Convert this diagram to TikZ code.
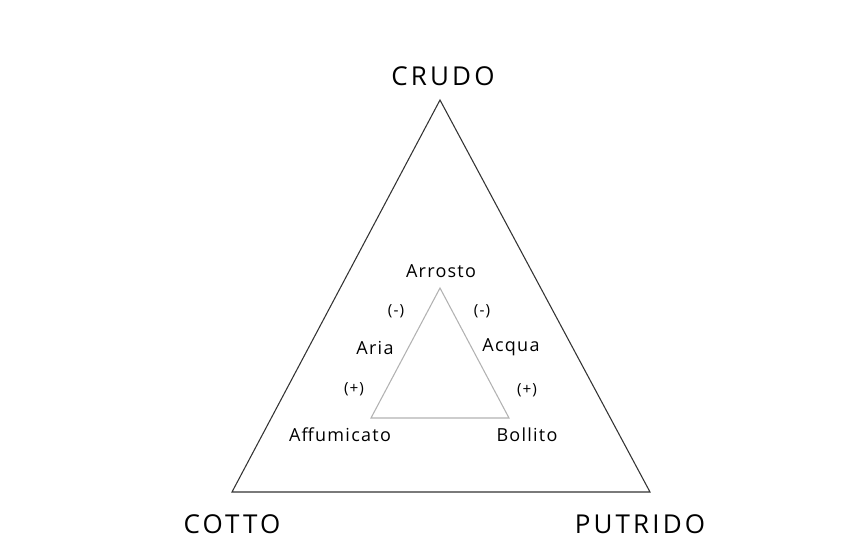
\documentclass[tikz,border=0pt]{standalone}
\usepackage{fontspec}
\setmainfont{Open Sans}
\newfontfamily\widefont[LetterSpace=12]{Open Sans}
\newfontfamily\midfont[LetterSpace=7]{Open Sans}

\begin{document}
\begin{tikzpicture}[x=0.75pt, y=-0.75pt, inner sep=0pt]
                \tikzstyle{pole}=[font=\widefont\fontsize{19.5}{22}\selectfont]
                \tikzstyle{cook}=[font=\midfont\fontsize{13.5}{16}\selectfont]
                \tikzstyle{sign}=[font=\midfont\fontsize{11.5}{13}\selectfont]
                \useasboundingbox (0,0) rectangle (844,560);

                    % Vertices
                    \coordinate (crudo) at (440,100);
                    \coordinate (cotto) at (232,492);
                    \coordinate (putrido) at (650,492);
                    \coordinate (arrosto) at (440,288);
                    \coordinate (affumicato) at (371,418);
                    \coordinate (bollito) at (509,418);

                    % Triangoli
                    \draw[black!80, line width=0.8pt] (crudo) -- (cotto) -- (putrido) -- cycle;
                    \draw[black!30, line width=0.8pt] (arrosto) -- (affumicato) -- (bollito) -- cycle;

                    % Poli
                    \node[pole] (lcrudo) at (443,76) {CRUDO};
                    \node[pole] (lcotto) at (232,524) {COTTO};
                    \node[pole] (lputrido) at (640,524) {PUTRIDO};

                    % Cotture
                    \node[cook] (larrosto) at (441,271) {Arrosto};
                    \node[cook] (laria) at (375,348) {Aria};
                    \node[cook] (lacqua) at (511,347) {Acqua};
                    \node[cook] (laffumicato) at (340,435) {Affumicato};
                    \node[cook] (lbollito) at (527,435) {Bollito};

                    \node[sign] (m1) at (396,311) {(-)};
                    \node[sign] (m2) at (482,311) {(-)};
                    \node[sign] (p1) at (354,389) {(+)};
                    \node[sign] (p2) at (527,390) {(+)};

            \end{tikzpicture}
\end{document}
